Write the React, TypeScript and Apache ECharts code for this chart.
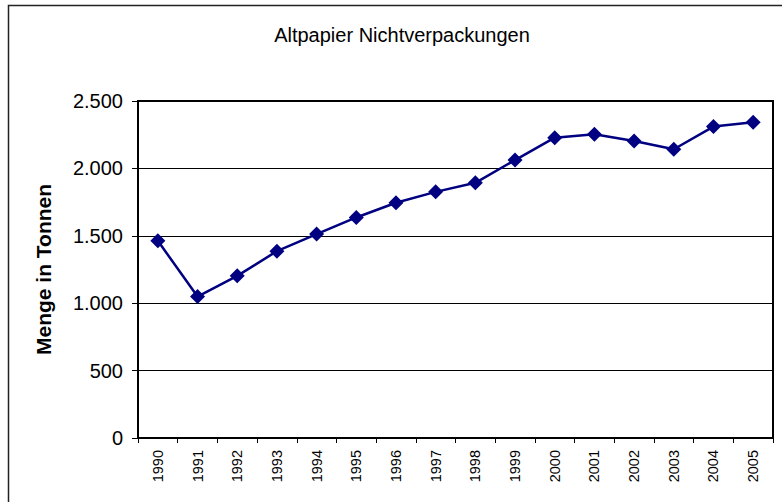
import React, { useEffect, useRef } from "react";
import * as echarts from "echarts";

const years = ["1990","1991","1992","1993","1994","1995","1996","1997","1998","1999","2000","2001","2002","2003","2004","2005"];
const mengen = [1463, 1049, 1203, 1386, 1513, 1636, 1745, 1826, 1893, 2062, 2228, 2253, 2203, 2142, 2310, 2342];
const yMin = 0;
const yMax = 2500;
const yStep = 500;
const titleText = "Altpapier Nichtverpackungen";
const yName = "Menge in Tonnen";

const FONT = "'Liberation Sans', Arial, Helvetica, sans-serif";

function fmt(v: number): string {
  return String(v).replace(/\B(?=(\d{3})+(?!\d))/g, ".");
}

export default function App() {
  const ref = useRef<HTMLDivElement>(null);
  useEffect(() => {
    if (!ref.current) return;
    const chart = echarts.init(ref.current, null, { renderer: "svg" });
    chart.setOption({
      animation: false,
      backgroundColor: "#ffffff",
      textStyle: { fontFamily: FONT },
      graphic: [
        {
          type: "rect",
          shape: { x: 8.5, y: 5.5, width: 900, height: 700 },
          style: { fill: "none", stroke: "#222", lineWidth: 1.5 },
          silent: true,
          z: -1,
        },
        {
          type: "text",
          x: 402,
          y: 35,
          style: {
            text: titleText,
            fontFamily: FONT,
            fontSize: 20,
            fill: "#000",
            textAlign: "center",
            textVerticalAlign: "middle",
          },
        },
      ],
      grid: {
        left: 138,
        top: 101,
        right: 9,
        bottom: 64,
        show: true,
        borderColor: "#000",
        borderWidth: 2,
        backgroundColor: "transparent",
      },
      xAxis: {
        type: "category",
        data: years,
        boundaryGap: true,
        axisLine: { show: true, lineStyle: { color: "#000", width: 2 } },
        axisTick: { show: true, interval: 0, length: 5, lineStyle: { color: "#000", width: 1 } },
        axisLabel: {
          interval: 0,
          rotate: 90,
          margin: 12,
          fontSize: 14.5,
          color: "#000",
          fontFamily: FONT,
        },
        splitLine: { show: false },
      },
      yAxis: {
        type: "value",
        min: yMin,
        max: yMax,
        interval: yStep,
        name: yName,
        nameLocation: "middle",
        nameRotate: 90,
        nameGap: 84,
        nameTextStyle: { fontSize: 21, fontWeight: "bold", color: "#000", fontFamily: FONT },
        axisLine: { show: true, lineStyle: { color: "#000", width: 2 } },
        axisTick: { show: true, inside: false, length: 6, lineStyle: { color: "#000", width: 1 } },
        axisLabel: {
          margin: 15,
          fontSize: 20,
          color: "#000",
          fontFamily: FONT,
          formatter: (v: number) => fmt(v),
        },
        splitLine: { show: true, lineStyle: { color: "#000", width: 1 } },
      },
      series: [
        {
          type: "line",
          data: mengen,
          symbol: "diamond",
          symbolSize: 15,
          lineStyle: { color: "#000080", width: 2.5 },
          itemStyle: { color: "#000080" },
        },
      ],
    });
    return () => chart.dispose();
  }, []);
  return (
    <div
      ref={ref}
      style={{ position: "absolute", left: 0, top: 0, width: 782, height: 502 }}
    />
  );
}
